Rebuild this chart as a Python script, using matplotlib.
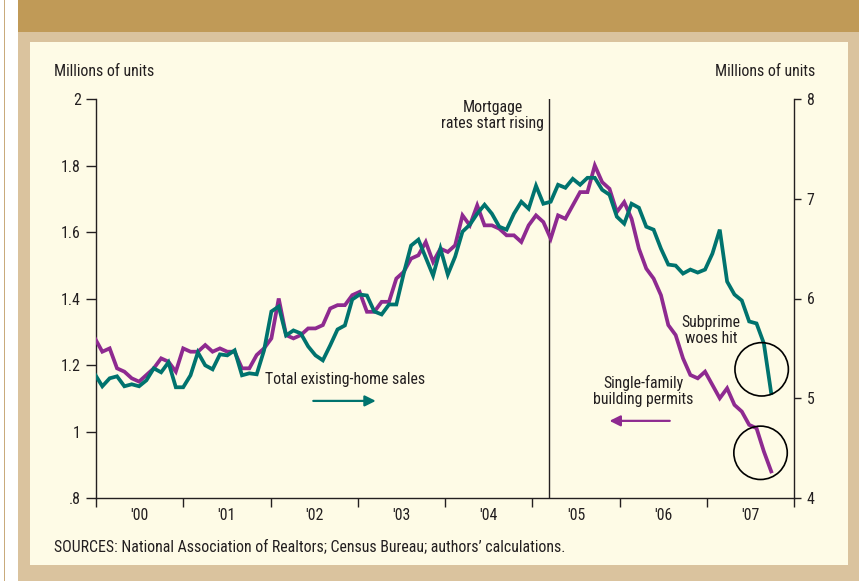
import matplotlib
matplotlib.use('Agg')
import matplotlib.pyplot as plt
from matplotlib import font_manager as fm
from matplotlib.patches import Rectangle, Ellipse
import numpy as np

# Single-family building permits (millions of units, left axis), monthly from Jan 2000
permits = [1.28, 1.24, 1.25, 1.19, 1.18, 1.16, 1.15, 1.17, 1.19, 1.22, 1.21, 1.18,
           1.25, 1.24, 1.24, 1.26, 1.24, 1.25, 1.24, 1.24, 1.19, 1.19, 1.23, 1.25,
           1.28, 1.40, 1.29, 1.28, 1.29, 1.31, 1.31, 1.32, 1.37, 1.38, 1.38, 1.41,
           1.42, 1.36, 1.36, 1.39, 1.39, 1.46, 1.48, 1.52, 1.53, 1.57, 1.51, 1.55,
           1.54, 1.56, 1.65, 1.62, 1.68, 1.62, 1.62, 1.61, 1.59, 1.59, 1.57, 1.62,
           1.65, 1.63, 1.58, 1.65, 1.64, 1.68, 1.72, 1.72, 1.80, 1.75, 1.73, 1.66,
           1.69, 1.64, 1.55, 1.49, 1.46, 1.41, 1.32, 1.29, 1.22, 1.17, 1.16, 1.18,
           1.14, 1.10, 1.13, 1.08, 1.06, 1.02, 1.01, 0.94, 0.88]

# Total existing-home sales (millions of units, right axis), monthly from Jan 2000
sales = [5.24, 5.12, 5.20, 5.22, 5.12, 5.14, 5.12, 5.18, 5.30, 5.26, 5.36, 5.11,
         5.11, 5.23, 5.46, 5.33, 5.29, 5.44, 5.43, 5.48, 5.23, 5.25, 5.24, 5.48,
         5.87, 5.92, 5.63, 5.68, 5.65, 5.52, 5.43, 5.38, 5.53, 5.69, 5.73, 5.99,
         6.04, 6.03, 5.87, 5.84, 5.94, 5.94, 6.25, 6.53, 6.59, 6.41, 6.23, 6.50,
         6.24, 6.42, 6.67, 6.74, 6.85, 6.94, 6.85, 6.72, 6.69, 6.85, 6.97, 6.90,
         7.13, 6.95, 6.97, 7.14, 7.11, 7.20, 7.14, 7.21, 7.21, 7.09, 7.04, 6.82,
         6.75, 6.95, 6.91, 6.72, 6.69, 6.50, 6.34, 6.33, 6.25, 6.29, 6.26, 6.29,
         6.45, 6.69, 6.17, 6.04, 5.98, 5.77, 5.75, 5.55, 5.05]

year_labels = ["'00", "'01", "'02", "'03", "'04", "'05", "'06", "'07"]
left_ticks = [0.8, 1.0, 1.2, 1.4, 1.6, 1.8, 2.0]
left_labels = ['.8', '1', '1.2', '1.4', '1.6', '1.8', '2']
right_ticks = [4, 5, 6, 7, 8]

# ---- pick a condensed sans font if one is installed ----
FS = 11.4
entries = fm.fontManager.ttflist
names = {f.name for f in entries}
chosen = None
for cand in ['Liberation Sans Narrow', 'Roboto Condensed', 'Open Sans Condensed',
             'Noto Sans Condensed', 'Arial Narrow']:
    if cand in names:
        chosen = cand
        break
if chosen is not None:
    plt.rcParams['font.family'] = [chosen, 'DejaVu Sans']
else:
    dv_cond = [f for f in entries if f.name == 'DejaVu Sans' and f.stretch == 'condensed']
    if dv_cond:
        plt.rcParams['font.family'] = ['DejaVu Sans']
        plt.rcParams['font.stretch'] = 'condensed'
        FS = 10.85
    else:
        plt.rcParams['font.family'] = ['Liberation Sans', 'DejaVu Sans']
        FS = 9.8

W, H = 859, 581
TEAL = '#00736E'
PURPLE = '#8E2A90'
INK = '#231F20'

fig = plt.figure(figsize=(W / 100, H / 100), dpi=100)
fig.patch.set_facecolor('white')


def fr(x0, y0, x1, y1, color, z=0):
    fig.add_artist(Rectangle((x0 / W, 1 - y1 / H), (x1 - x0) / W, (y1 - y0) / H,
                             transform=fig.transFigure, facecolor=color,
                             edgecolor='none', zorder=z))


fr(18, 0, W, 32, '#C09A57')
fr(18, 32, W, H, '#DAC39E')
fr(30, 42, 848, 565, '#FEFBE6')
fr(4, 0, 5, H, '#C9AB7C')

ax = fig.add_axes([96 / W, 1 - 498 / H, 698 / W, 399 / H])
ax2 = ax.twinx()
for a in (ax, ax2):
    a.patch.set_visible(False)

months = np.arange(len(permits))
ax.plot(months, permits, color=PURPLE, lw=2.7, solid_joinstyle='miter', zorder=3)
ax2.plot(np.arange(len(sales)), sales, color=TEAL, lw=2.7, solid_joinstyle='miter', zorder=3)

x0, x1 = 0.14, 95.1
ax.set_xlim(x0, x1)
ax.set_ylim(0.8, 2.0)
ax2.set_ylim(4, 8)

bounds = np.linspace(x0, x1, 9)
mids = (bounds[:-1] + bounds[1:]) / 2
ax.set_xticks(bounds)
ax.set_xticklabels([])
ax.set_xticks(mids, minor=True)
ax.set_xticklabels(year_labels, minor=True)
ax.tick_params(axis='x', which='major', direction='out', length=6.5, width=1, color=INK)
ax.tick_params(axis='x', which='minor', length=0, pad=7, labelsize=FS, labelcolor=INK)

ax.set_yticks(left_ticks)
ax.set_yticklabels(left_labels)
ax.tick_params(axis='y', direction='out', length=7, width=1, color=INK, pad=4,
               labelsize=FS, labelcolor=INK)
ax2.set_yticks(right_ticks)
ax2.tick_params(axis='y', direction='out', length=5, width=1, color=INK, pad=4,
                labelsize=FS, labelcolor=INK)

for s in ('top', 'right'):
    ax.spines[s].set_visible(False)
for s in ('top', 'left', 'bottom'):
    ax2.spines[s].set_visible(False)
for sp in (ax.spines['left'], ax.spines['bottom'], ax2.spines['right']):
    sp.set_color(INK)
    sp.set_linewidth(1)

# Mortgage rates line
ax.axvline(61.8, color=INK, lw=1, zorder=2)
ax.text(54.1, 1.95, 'Mortgage\nrates start rising', ha='center', va='center',
        fontsize=FS, color=INK, linespacing=1.1)

# Series labels and arrows
ax.text(34.0, 1.155, 'Total existing-home sales', ha='center', va='center',
        fontsize=FS, color=INK)
ax.annotate('', xy=(38.2, 1.092), xytext=(29.7, 1.092),
            arrowprops=dict(arrowstyle='-|>', color=TEAL, lw=1.6,
                            mutation_scale=16, shrinkA=0, shrinkB=0))
ax.text(74.6, 1.122, 'Single-family\nbuilding permits', ha='center', va='center',
        fontsize=FS, color=INK, linespacing=1.1)
ax.annotate('', xy=(70.0, 1.032), xytext=(78.2, 1.032),
            arrowprops=dict(arrowstyle='-|>', color=PURPLE, lw=1.6,
                            mutation_scale=16, shrinkA=0, shrinkB=0))
ax.text(83.8, 1.304, 'Subprime\nwoes hit', ha='center', va='center',
        fontsize=FS, color=INK, linespacing=1.1)

# Circles
ax2.add_patch(Ellipse((90.7, 5.29), width=7.27, height=0.535, fill=False,
                      ec='black', lw=1.2, zorder=4))
ax2.add_patch(Ellipse((90.55, 4.453), width=7.27, height=0.535, fill=False,
                      ec='black', lw=1.2, zorder=4))

# Axis unit labels
fig.text(54 / W, 1 - 72 / H, 'Millions of units', ha='left', va='center',
         fontsize=FS, color=INK)
fig.text(815 / W, 1 - 72 / H, 'Millions of units', ha='right', va='center',
         fontsize=FS, color=INK)

fig.text(54 / W, 1 - 547 / H,
         'SOURCES: National Association of Realtors; Census Bureau; authors\u2019 calculations.',
         ha='left', va='center', fontsize=FS, color=INK)

fig.savefig('out.png', dpi=100, facecolor=fig.get_facecolor())
